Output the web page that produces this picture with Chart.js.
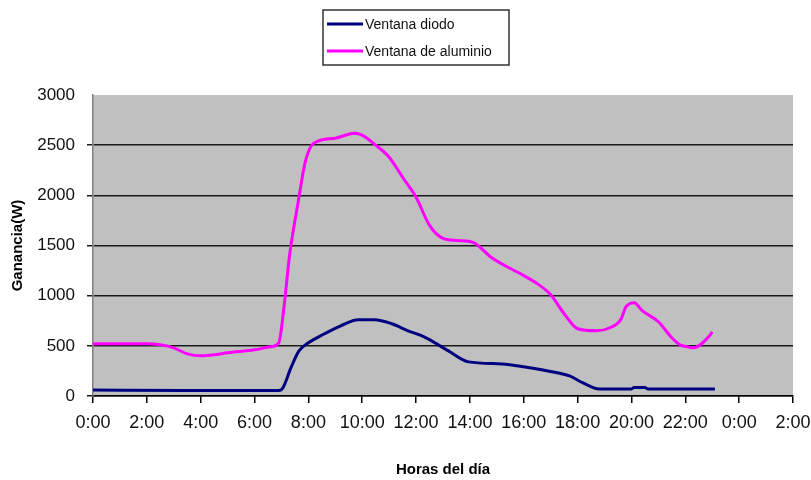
<!DOCTYPE html>
<html>
<head>
<meta charset="utf-8">
<script src="https://cdn.jsdelivr.net/npm/chart.js@4"></script>
<style>
    body { margin: 0; background: #fff; }
</style>
</head>
<body>
<canvas id="chart" width="811" height="480"></canvas>
<script>
let diodoLabel = "Ventana diodo";
let aluLabel = "Ventana de aluminio";

let diodoHoras = [0, 3.4, 6.9, 7.05, 7.35, 7.65, 8.0, 8.6, 9.2, 9.85, 10.45, 11.1, 11.7, 12.3, 13.2, 13.95, 15.2, 16.05, 16.9, 17.7, 18.2, 18.8, 20.0, 20.1, 20.5, 20.6, 23.1];
let diodoValores = [60, 55, 55, 80, 280, 450, 530, 620, 700, 760, 760, 720, 650, 590, 450, 340, 320, 290, 250, 200, 130, 70, 70, 85, 85, 70, 70];

let aluHoras = [0, 2.0, 2.5, 3.0, 3.5, 4.0, 4.5, 5.0, 6.0, 6.6, 6.9, 7.1, 7.3, 7.6, 7.9, 8.2, 9.0, 9.7, 10.0, 10.5, 11.0, 11.5, 12.0, 12.5, 13.0, 13.5, 14.0, 14.2, 14.8, 16.0, 16.5, 17.0, 17.5, 18.0, 18.7, 19.2, 19.6, 19.8, 20.1, 20.4, 21.0, 21.5, 21.8, 22.1, 22.3, 22.9, 23.0];
let aluValores = [520, 520, 510, 480, 420, 400, 410, 430, 460, 490, 530, 900, 1400, 1900, 2350, 2520, 2570, 2620, 2600, 2500, 2380, 2180, 1980, 1700, 1570, 1550, 1540, 1520, 1380, 1200, 1120, 1010, 820, 670, 650, 680, 760, 890, 930, 850, 740, 580, 510, 490, 480, 600, 640];

let yTicks = [0, 500, 1000, 1500, 2000, 2500, 3000];

function toPoints(horas, valores) {
    return horas.map((h, i) => ({ x: h, y: valores[i] }));
}

const fondoGris = {
    id: "fondoGris",
    beforeDraw(chart) {
        let a = chart.chartArea;
        let ctx = chart.ctx;
        ctx.save();
        ctx.fillStyle = "#c0c0c0";
        ctx.fillRect(a.left, a.top, a.right - a.left, a.bottom - a.top);
        ctx.restore();
    }
};

const leyenda = {
    id: "leyenda",
    afterDraw(chart) {
        let ctx = chart.ctx;
        ctx.save();
        ctx.fillStyle = "#fff";
        ctx.fillRect(323, 10, 186, 55);
        ctx.strokeStyle = "#333";
        ctx.lineWidth = 1.5;
        ctx.strokeRect(323, 10, 186, 55);
        ctx.font = "14px 'Liberation Sans', Arial, sans-serif";
        ctx.textBaseline = "middle";
        chart.data.datasets.forEach((ds, i) => {
            let y = 24 + i * 27;
            ctx.strokeStyle = ds.borderColor;
            ctx.lineWidth = 3;
            ctx.beginPath();
            ctx.moveTo(327, y);
            ctx.lineTo(363, y);
            ctx.stroke();
            ctx.fillStyle = "#111";
            ctx.fillText(ds.label, 365, y + 1);
        });
        ctx.restore();
    }
};

new Chart(document.getElementById("chart"), {
    type: "line",
    data: {
        datasets: [{
            label: diodoLabel,
            data: toPoints(diodoHoras, diodoValores),
            borderColor: "#000080",
            borderWidth: 3,
            pointRadius: 0,
            cubicInterpolationMode: "monotone"
        }, {
            label: aluLabel,
            data: toPoints(aluHoras, aluValores),
            borderColor: "#ff00ff",
            borderWidth: 3,
            pointRadius: 0,
            cubicInterpolationMode: "monotone"
        }]
    },
    options: {
        responsive: false,
        animation: false,
        devicePixelRatio: 1,
        layout: { padding: { left: 0, right: 18, top: 95, bottom: 0 } },
        plugins: {
            legend: { display: false },
            tooltip: { enabled: false }
        },
        scales: {
            x: {
                type: "linear",
                min: 0,
                max: 26,
                afterFit(scale) {
                    scale.height = 84;
                    scale.paddingLeft = 0;
                    scale.paddingRight = 0;
                },
                border: { color: "#000", width: 1.5 },
                grid: { drawOnChartArea: false, color: "#000", tickLength: 7, lineWidth: 1.5 },
                ticks: {
                    stepSize: 2,
                    autoSkip: false,
                    maxRotation: 0,
                    padding: 9,
                    color: "#111",
                    font: { family: "'Liberation Sans', Arial, sans-serif", size: 18 },
                    callback: v => (v % 24) + ":00"
                },
                title: {
                    display: true,
                    text: "Horas del día",
                    color: "#000",
                    padding: { top: 0, bottom: 1 },
                    font: { family: "'Liberation Sans', Arial, sans-serif", size: 15, weight: "bold" }
                }
            },
            y: {
                min: 0,
                max: 3000,
                afterFit(scale) { scale.width = 93; },
                afterBuildTicks(scale) { scale.ticks = yTicks.map(v => ({ value: v })); },
                border: { color: "#808080", width: 1.5 },
                grid: {
                    color: ctx => ctx.tick && ctx.tick.value === 3000 ? "rgba(0,0,0,0)" : "#1a1a1a",
                    lineWidth: 1.5,
                    tickLength: 6
                },
                ticks: {
                    padding: 12,
                    color: "#111",
                    font: { family: "'Liberation Sans', Arial, sans-serif", size: 17 },
                    callback: v => String(v)
                },
                title: {
                    display: true,
                    text: "Ganancia(W)",
                    color: "#000",
                    padding: { top: 9, bottom: 0 },
                    font: { family: "'Liberation Sans', Arial, sans-serif", size: 15, weight: "bold" }
                }
            }
        }
    },
    plugins: [fondoGris, leyenda]
});
</script>
</body>
</html>
